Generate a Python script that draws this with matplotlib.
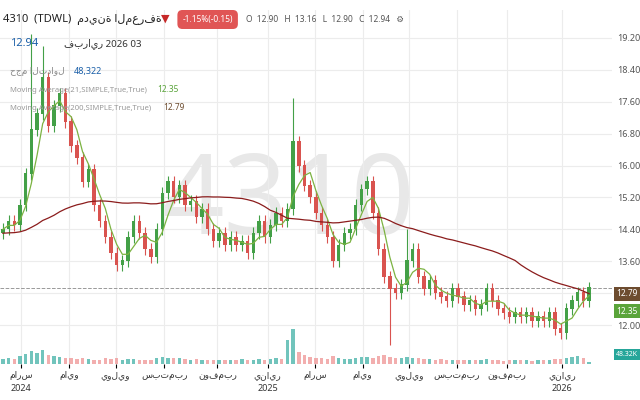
import matplotlib
matplotlib.use("Agg")
import matplotlib.pyplot as plt
import numpy as np
import pandas as pd

plt.rcParams['font.family'] = ['Noto Sans', 'DejaVu Sans']

closes = [14.4,14.6,14.5,15.0,15.8,16.9,17.3,18.2,17.0,17.5,17.8,
          17.1,16.5,16.2,15.6,15.9,15.0,14.6,14.2,13.8,13.5,
          13.6,14.2,14.6,14.3,13.9,13.7,14.4,15.3,15.6,15.2,
          15.5,15.0,15.1,14.7,14.9,14.4,14.1,14.3,14.0,14.2,
          14.0,14.1,13.8,14.3,14.6,14.2,14.5,14.8,14.6,14.9,
          16.6,16.0,15.5,15.2,14.8,14.5,14.2,13.6,14.0,14.3,
          14.4,15.0,15.4,15.6,14.8,13.9,13.2,12.9,12.8,13.0,
          13.6,13.9,13.2,12.9,13.1,12.8,12.7,12.6,12.9,12.7,
          12.5,12.6,12.4,12.5,12.9,12.6,12.4,12.3,12.2,12.3,
          12.2,12.3,12.1,12.2,12.1,12.3,11.9,11.8,12.4,12.6,
          12.8,12.6,12.94]
spikes = {5: 19.3, 7: 19.0, 51: 17.7, 71: 14.4, 68: 11.5}
volume = [120,150,130,200,260,320,280,350,240,200,180,
          160,140,130,150,120,110,100,140,120,160,
          110,130,120,100,90,110,150,180,160,140,
          150,130,110,120,100,90,110,100,90,110,
          100,120,90,110,130,100,120,150,130,600,
          900,300,220,180,160,140,130,200,150,130,
          120,160,180,170,150,200,220,180,150,140,
          170,160,140,130,120,110,120,100,110,100,
          110,100,90,100,120,100,90,80,100,90,
          90,100,80,90,100,110,120,130,150,180,
          200,160,48]
xlabels = ['مارس\n2024','مايو','يوليو','سبتمبر','نوفمبر','يناير\n2025','مارس','مايو','يوليو','سبتمبر','نوفمبر','يناير\n2026']
xlabel_pos = [3.2,11.6,19.8,28.4,37.7,46.5,54.9,63.2,71.4,79.8,88.6,98.3]
price_ticks = [12.00,13.60,14.40,15.20,16.00,16.80,17.60,18.40,19.20]
grid_ticks = [12.00,12.80,13.60,14.40,15.20,16.00,16.80,17.60,18.40,19.20]

n = len(closes)
x = np.arange(n)
c = np.array(closes)
o = np.concatenate([[14.3], c[:-1]])
hi = np.maximum(o, c) + 0.15
lo = np.minimum(o, c) - 0.15
for k, v in spikes.items():
    if v > hi[k]: hi[k] = v
    else: lo[k] = v
ma21 = pd.Series(c).rolling(4, min_periods=1).mean()
ma200 = (pd.Series(np.concatenate([[14.3]*30, c])).rolling(40, min_periods=1).mean()).values[30:]

fig = plt.figure(figsize=(6.4, 4.0), dpi=100)
ax = fig.add_axes([0.0, 0.09, 0.956, 0.885])
ax.set_xlim(-0.5, 107)
ymin = 19.2 - (365 - 38) / 40
ymax = 19.2 + (38 - 10) / 40
ax.set_ylim(ymin, ymax)
for s in ax.spines.values(): s.set_visible(False)
ax.grid(axis='x', color='#ececec', lw=0.8)
for g in grid_ticks:
    ax.axhline(g, color='#ececec', lw=0.8, zorder=0)
ax.set_xticks(xlabel_pos)
ax.set_xticklabels(xlabels, fontsize=6.5, color='#333', linespacing=1.6)
ax.tick_params(axis='x', length=3, pad=2)

ax.text(50, 15.0, '4310', fontsize=80, color='#e8e8e8', ha='center', va='center', zorder=0)

axv = ax.twinx()
axv.set_ylim(0, 9000)
axv.set_yticks([])
for s in axv.spines.values(): s.set_visible(False)
ax.yaxis.tick_right()
ax.set_yticks(price_ticks)
ax.set_yticklabels([f"{t:.2f}" for t in price_ticks], fontsize=6.5, color='#555')
ax.tick_params(axis='y', length=0, pad=4)
vcol = ['#4db6ac' if c[i] >= o[i] else '#ef9a9a' for i in range(n)]
axv.bar(x, volume, width=0.6, color=vcol, alpha=0.8)

col = np.where(c >= o, '#43a047', '#d9534f')
ax.vlines(x, lo, hi, color=col, lw=0.8, zorder=3)
ax.bar(x, np.abs(c - o) + 0.02, bottom=np.minimum(o, c), width=0.6, color=col, zorder=4)
ax.plot(x, ma21, color='#7cb342', lw=0.9, zorder=5)
ax.plot(x, ma200, color='#8b1c1c', lw=0.9, zorder=5)
ax.axhline(12.94, color='#999', lw=0.7, ls='--')

def tag(ax_, y, txt, fc, fs=6):
    ax_.annotate(txt, xy=(1.0, y), xycoords=('axes fraction', 'data'), xytext=(3, 0),
                 textcoords='offset points', fontsize=fs, color='white', va='center',
                 bbox=dict(boxstyle='square,pad=0.3', fc=fc, ec='none'), annotation_clip=False)
tag(ax, 12.79, '12.79', '#6d4c2f')
tag(ax, 12.35, '12.35', '#5aa43a')
tag(axv, 250, '48.32K', '#26a69a', fs=5)

fig.text(0.005, 0.945, '4310  (TDWL)  مدينة المعرفة', fontsize=8, color='#222')
fig.text(0.252, 0.945, '▼', fontsize=8, color='#c62828')
fig.text(0.285, 0.945, '-1.15%(-0.15)', fontsize=6, color='white',
         bbox=dict(boxstyle='round,pad=0.6', fc='#e05555', ec='none'))
fig.text(0.385, 0.945, 'O  12.90   H  13.16   L  12.90   C  12.94   ⚙', fontsize=6, color='#555')
fig.text(0.015, 0.885, '12.94', fontsize=8, color='#1a5fa8')
fig.text(0.1, 0.885, 'فبراير 2026 03', fontsize=7, color='#333')
fig.text(0.015, 0.815, 'حجم التداول', fontsize=6.5, color='#888')
fig.text(0.115, 0.815, '48,322', fontsize=6.5, color='#1a5fa8')
fig.text(0.015, 0.77, 'Moving Average(21,SIMPLE,True,True)', fontsize=5.5, color='#999')
fig.text(0.245, 0.77, '12.35', fontsize=6, color='#5aa43a')
fig.text(0.015, 0.725, 'Moving Average(200,SIMPLE,True,True)', fontsize=5.5, color='#999')
fig.text(0.255, 0.725, '12.79', fontsize=6, color='#6d4c2f')
fig.savefig('out.png', dpi=100)
